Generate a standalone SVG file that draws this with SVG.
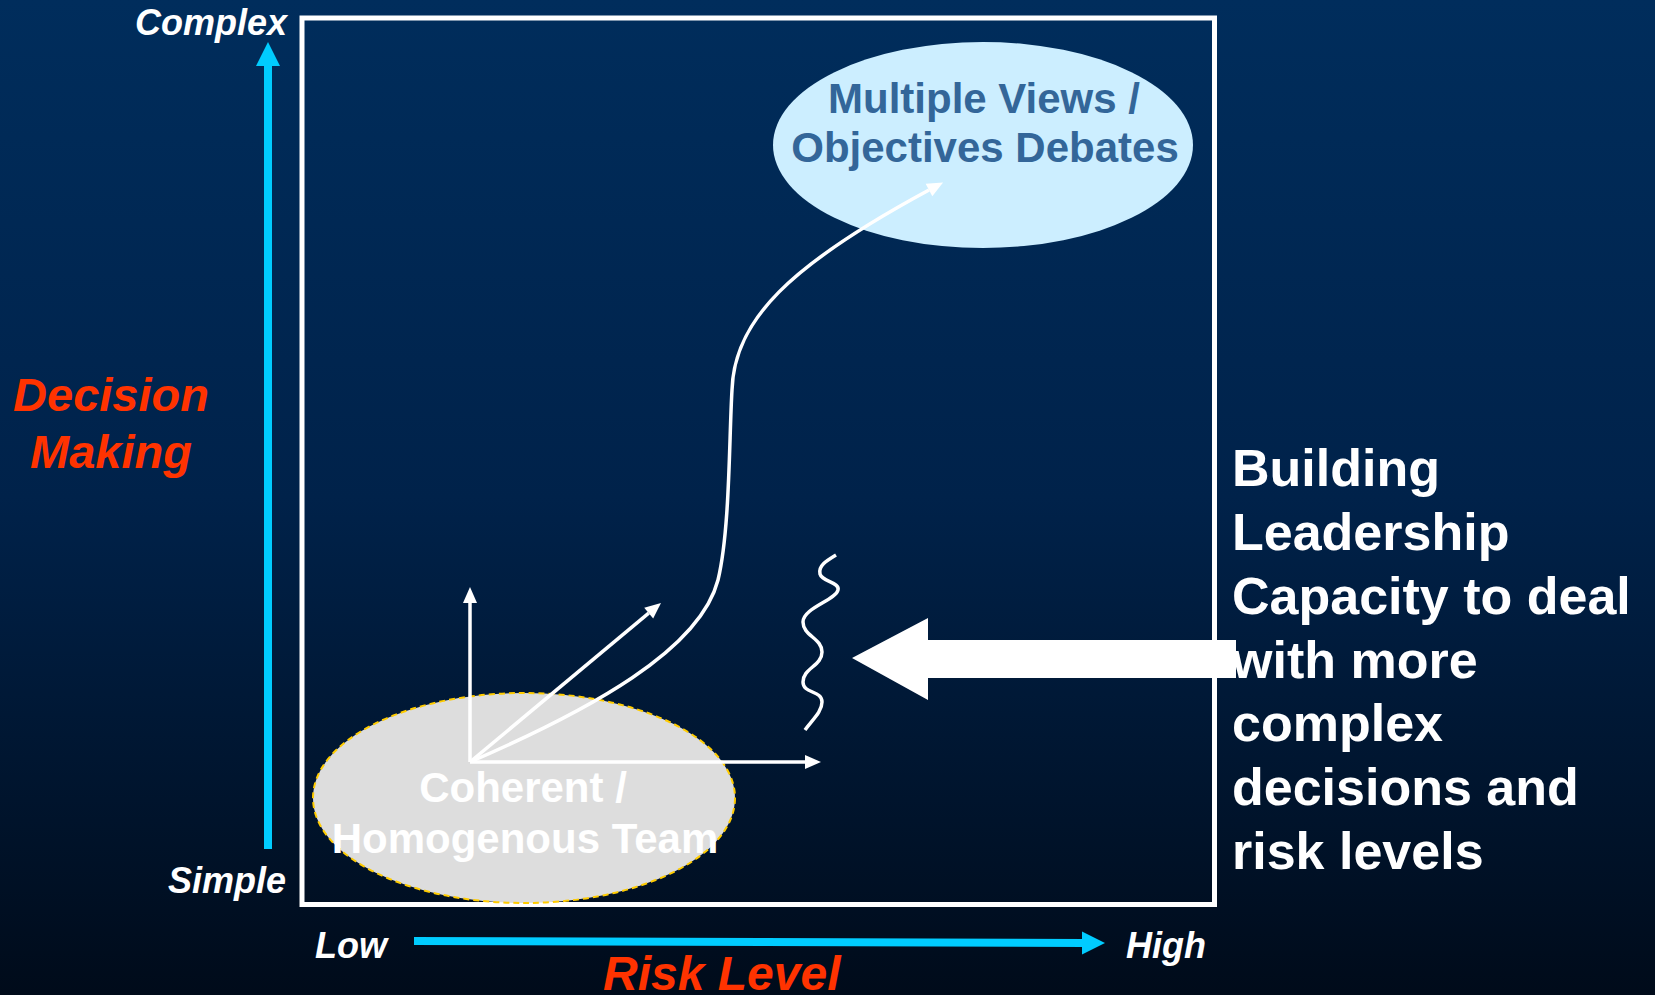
<svg xmlns="http://www.w3.org/2000/svg" width="1655" height="995" viewBox="0 0 1655 995">
  <defs>
    <linearGradient id="bg" x1="0" y1="0" x2="0" y2="1">
      <stop offset="0" stop-color="#002d5c"/>
      <stop offset="0.5" stop-color="#00224a"/>
      <stop offset="1" stop-color="#000b1a"/>
    </linearGradient>
    <marker id="wh" markerUnits="userSpaceOnUse" markerWidth="16" markerHeight="14" refX="0" refY="7" orient="auto" overflow="visible">
      <path d="M0,0 L16,7 L0,14 z" fill="#ffffff"/>
    </marker>
    <style>
      .ax { font-family: "Liberation Sans", Arial, sans-serif; font-weight: bold; font-style: italic; fill: #ffffff; font-size: 36px; }
      .ttl { font-family: "Liberation Sans", Arial, sans-serif; font-weight: bold; font-style: italic; fill: #ff3300; }
      .lbl { font-family: "Liberation Sans", Arial, sans-serif; font-weight: bold; font-size: 42px; text-anchor: middle; }
      .side { font-family: "Liberation Sans", Arial, sans-serif; font-weight: bold; font-size: 52px; fill: #ffffff; }
      .thin { fill: none; stroke: #ffffff; stroke-width: 3.5; }
      .cyan { fill: #00ccff; }
    </style>
  </defs>
  <rect x="0" y="0" width="1655" height="995" fill="url(#bg)"/>

  <g id="frame">
    <rect x="302" y="18" width="912.5" height="886.5" fill="none" stroke="#ffffff" stroke-width="5"/>
  </g>

  <g id="axis-vertical">
    <rect x="264" y="64" width="8" height="785" class="cyan"/>
    <polygon points="268,42 280,66 256,66" class="cyan"/>
    <text class="ax" x="135" y="35">Complex</text>
    <text class="ax" x="168" y="893">Simple</text>
    <text class="ttl" x="111" y="411" font-size="47" text-anchor="middle">Decision</text>
    <text class="ttl" x="111" y="468" font-size="47" text-anchor="middle">Making</text>
  </g>

  <g id="axis-horizontal">
    <line x1="414" y1="941" x2="1084" y2="943" stroke="#00ccff" stroke-width="8"/>
    <polygon points="1082,931.5 1105,943 1082,954.5" class="cyan"/>
    <text class="ax" x="315" y="958">Low</text>
    <text class="ax" x="1126" y="958">High</text>
    <text class="ttl" x="603" y="990" font-size="48">Risk Level</text>
  </g>

  <g id="node-multiple-views">
    <ellipse cx="983" cy="145" rx="210" ry="103" fill="#cceeff"/>
    <text class="lbl" x="984" y="113" fill="#336699">Multiple Views /</text>
    <text class="lbl" x="985" y="162" fill="#336699">Objectives Debates</text>
  </g>

  <g id="node-coherent-team">
    <ellipse cx="524" cy="798" rx="211" ry="105" fill="#dddddd" stroke="#ffcc00" stroke-width="2" stroke-dasharray="6 4"/>
    <text class="lbl" x="523" y="802" fill="#ffffff">Coherent /</text>
    <text class="lbl" x="525" y="853" fill="#ffffff">Homogenous Team</text>
  </g>

  <g id="node-building-leadership">
    <text class="side" x="1232" y="486">Building</text>
    <text class="side" x="1232" y="550">Leadership</text>
    <text class="side" x="1232" y="614">Capacity to deal</text>
    <text class="side" x="1232" y="678">with more</text>
    <text class="side" x="1232" y="741">complex</text>
    <text class="side" x="1232" y="805">decisions and</text>
    <text class="side" x="1232" y="869">risk levels</text>
  </g>

  <g id="connectors">
    <line class="thin" x1="470" y1="762" x2="470" y2="603" marker-end="url(#wh)"/>
    <line class="thin" x1="470" y1="762" x2="805" y2="762" marker-end="url(#wh)"/>
    <line class="thin" x1="470" y1="762" x2="648.7" y2="613.2" marker-end="url(#wh)"/>
    <path class="thin" d="M470,762 C590,710 700,650 718,580 C730,530 729,440 732,390 C734,320 790,265 929,190" marker-end="url(#wh)"/>
    <path class="thin" d="M836,555 C826,561 818,566 820,574 C822,582 840,582 838,590 C836,600 803,608 803,622 C803,636 822,638 822,652 C822,666 803,668 803,682 C803,694 822,690 822,702 C822,712 812,720 805,730"/>
    <polygon points="852,658 928,618 928,640 1236,640 1236,678 928,678 928,700" fill="#ffffff"/>
  </g>
</svg>
